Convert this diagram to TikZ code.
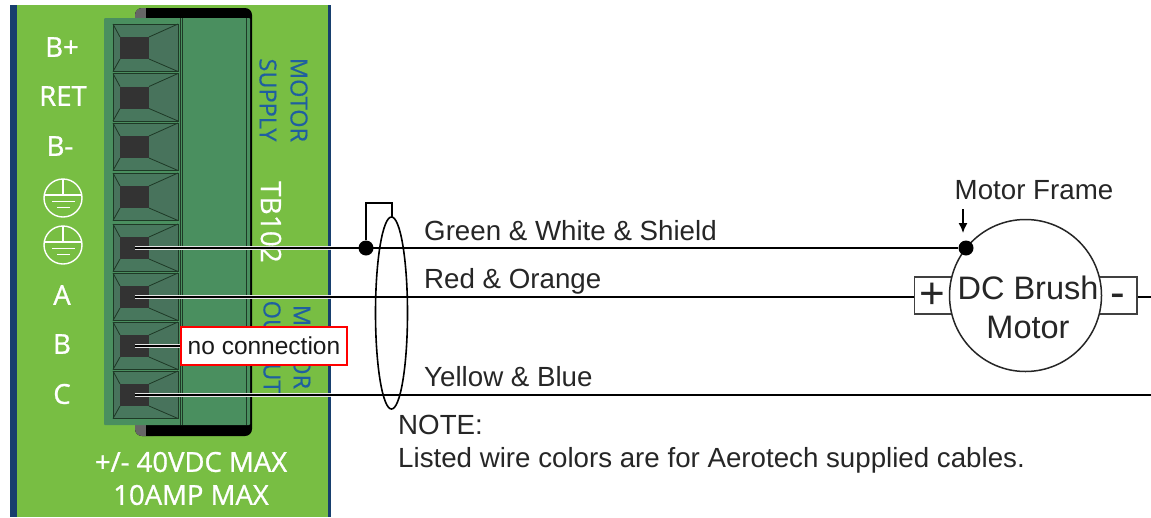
\documentclass[tikz,border=0pt]{standalone}
\usepackage{fontspec}
\setmainfont{Liberation Sans}
\newfontfamily\panelfont[FakeBold=1]{Open Sans}
\newfontfamily\silkfont[FakeBold=0.5]{Open Sans}
\usetikzlibrary{arrows,arrows.meta,positioning,calc,shapes.geometric}
\definecolor{boardgreen}{HTML}{78BE43}
\definecolor{boardnavy}{HTML}{173F6E}
\definecolor{plugtone}{HTML}{4A8F5F}
\definecolor{celltone}{HTML}{48735C}
\definecolor{wellblack}{HTML}{333333}
\definecolor{printblue}{HTML}{1F5FA0}
\tikzset{
  pinlabel/.style={text=white, font=\panelfont\fontsize{27.5}{27.5}\selectfont, inner sep=0pt},
  boardtext/.style={text=white, font=\panelfont\fontsize{27.5}{33}\selectfont, align=center, inner sep=0pt},
  silk/.style={text=printblue, font=\silkfont\fontsize{23.5}{23.5}\selectfont, rotate=-90, inner sep=0pt},
  wirelabel/.style={text=black!85, font=\fontsize{27.7}{27.7}\selectfont, inner sep=0pt, anchor=base west},
  wire/.style={draw=black, line width=1.9pt},
  corewire/.style={draw=white!80!gray, line width=4.6pt},
  dot/.style={circle, fill=black, inner sep=0pt, minimum size=15pt},
  lug/.style={draw=black!75, fill=white, line width=1.5pt, minimum width=38pt, minimum height=37pt, inner sep=0pt}
}
\begin{document}
\begin{tikzpicture}[x=1pt, y=-1pt]
        \useasboundingbox (0, 0) rectangle (1151, 517);
        %board
        \fill[boardgreen] (10, 5) rectangle (331, 517);
        \fill[boardnavy] (10, 5) rectangle (17, 517);
        \fill[boardnavy] (328, 5) rectangle (331, 517);
        %plug
        \fill[black, rounded corners=7pt] (135, 8) rectangle (252, 436);
        \fill[black!60, rounded corners=7pt] (135, 8) rectangle (160, 436);
        \fill[black] (146, 8) rectangle (165, 436);
        \fill[plugtone, rounded corners=1pt] (104, 18) rectangle (250, 425);
        \draw[black!60!plugtone, line width=1pt] (180, 18) -- (180, 425);
        \draw[black!60!plugtone, line width=1pt] (182.5, 18) -- (182.5, 425);
        \draw[black!60!plugtone, line width=1pt] (246, 18) -- (246, 425);
        %terminals
        \foreach \name/\y in {bplus/48, ret/97.5, bminus/147, gnda/197, gndb/248, pina/297, pinb/346, pinc/395} {
          \fill[celltone] (113, \y-24) rectangle (178, \y+23.5);
          \fill[plugtone!15!celltone] (113, \y-24) -- (178, \y-24) -- (149, \y-11) -- (120, \y-11) -- cycle;
          \fill[plugtone!15!celltone] (113, \y+23.5) -- (178, \y+23.5) -- (149, \y+11) -- (120, \y+11) -- cycle;
          \draw[black!60!plugtone, line width=0.8pt] (113, \y-24) rectangle (178, \y+23.5);
          \draw[black!60!plugtone, line width=0.8pt] (113, \y-24) -- (120, \y-11) (178, \y-24) -- (149, \y-11) (113, \y+23.5) -- (120, \y+11) (178, \y+23.5) -- (149, \y+11);
          \node[fill=wellblack, minimum width=29pt, minimum height=22pt, inner sep=0pt] (\name) at (134.5, \y) {};
        }
        %pin labels
        \node[pinlabel] (lbplus) at (62, 47) {B+};
        \node[pinlabel] (lret) at (63, 96) {RET};
        \node[pinlabel] (lbminus) at (60, 146) {B-};
        \node[pinlabel] (la) at (62, 295) {A};
        \node[pinlabel] (lb) at (62, 344) {B};
        \node[pinlabel] (lc) at (62, 394) {C};
        \foreach \y in {198, 245} {
          \draw[white, line width=1.4pt] (63, \y) circle (19pt);
          \draw[white, line width=1.4pt] (63, \y-19) -- (63, \y-3) (44.5, \y-3) -- (81.5, \y-3) (52, \y+3.5) -- (75, \y+3.5) (57, \y+9.5) -- (70, \y+9.5);
        }
        \node[silk] (supply) at (268, 100) {SUPPLY};
        \node[silk] (motora) at (299, 100) {MOTOR};
        \node[silk, text=white, font=\silkfont\fontsize{28}{28}\selectfont] (tb) at (271, 222) {TB102};
        \node[silk] (output) at (272, 347) {OUTPUT};
        \node[silk] (motorb) at (302, 347) {MOTOR};
        \node[boardtext] (rating) at (191, 478.5) {+/- 40VDC MAX\\10AMP MAX};
        %motor
        \node[lug] (plus) at (933.5, 295.5) {};
        \node[lug] (minus) at (1118, 295.5) {};
        \node[circle, draw=black!85, fill=white, line width=1.5pt, minimum size=152pt, inner sep=0pt] (motor) at (1025.5, 295.5) {};
        \node[inner sep=0pt, text=black!85, align=center, font=\fontsize{32.5}{39}\selectfont] (motortext) at (1028, 307) {DC Brush\\Motor};
        \node[inner sep=0pt, text=black!85, font=\fontsize{44}{44}\selectfont] (plussign) at (932, 296) {+};
        \node[inner sep=0pt, text=black!85, font=\fontsize{44}{44}\selectfont] (minussign) at (1118, 301) {-};
        \node[text=black!85, font=\fontsize{27.7}{27.7}\selectfont, inner sep=0pt] (frame) at (1034, 190) {Motor Frame};
        \node[dot] (framedot) at (966, 248) {};
        \node[dot] (shielddot) at (366, 248) {};
        %wires
        \coordinate (loopa) at (366, 203);
        \coordinate (loopb) at (392, 203);
        \coordinate (loopc) at (392, 217);
        \coordinate (arrowtop) at (963, 209);
        \coordinate (arrowend) at (963, 233);
        \coordinate (outend) at (1151, 297);
        \coordinate (cend) at (1151, 395);
        \coordinate (boardedge) at (331, 0);
        \node[draw=red, fill=white, line width=1.5pt, minimum width=166pt, minimum height=38pt, inner sep=0pt, text=black!90, font=\fontsize{24.5}{24.5}\selectfont] (nc) at (264, 346) {no connection};
        \foreach \name in {gndb, pina, pinc} {
          \path [corewire] (\name.center) -- (\name.center -| boardedge);
        }
        \path [corewire] (pinb.center) -- (nc.west);
        \path [wire] (gndb.center) -- (framedot);
        \path [wire] (pina.center) -- (pina.center -| plus.west);
        \path [wire] (pinb.center) -- (nc.west);
        \path [wire] (pinc.center) -- (cend);
        \path [wire] (minus.east |- outend) -- (outend);
        \path [wire] (shielddot) -- (loopa) -- (loopb) -- (loopc);
        \node[ellipse, draw=black, line width=1.6pt, minimum width=32pt, minimum height=192pt, inner sep=0pt] (shield) at (391.5, 313) {};
        \path [draw, line width=1.4pt, -{Latex[length=10pt, width=9pt]}] (arrowtop) -- (arrowend);
        %wire colours
        \node[wirelabel] (green) at (424, 240) {Green \& White \& Shield};
        \node[wirelabel] (red) at (424, 288) {Red \& Orange};
        \node[wirelabel] (yellow) at (424, 386) {Yellow \& Blue};
        \node[wirelabel] (note) at (398, 434) {NOTE:};
        \node[wirelabel] (listed) at (398, 467) {Listed wire colors are for Aerotech supplied cables.};
      \end{tikzpicture}
\end{document}
